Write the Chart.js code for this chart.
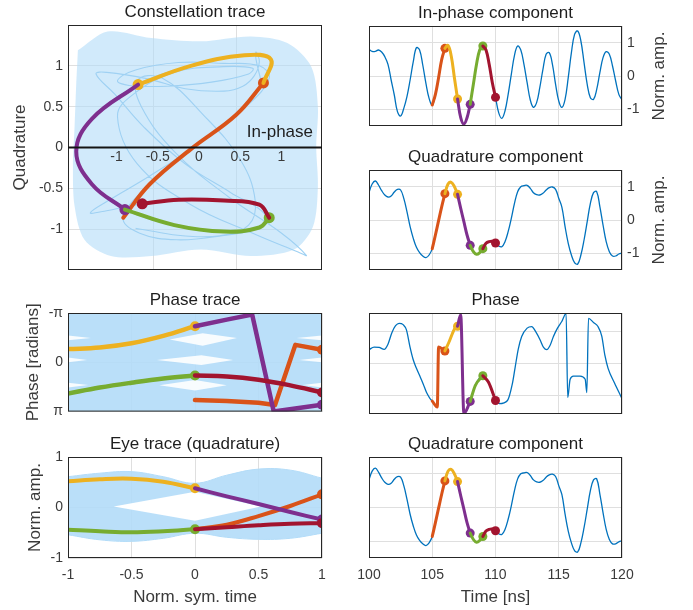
<!DOCTYPE html>
<html>
<head>
<meta charset="utf-8">
<script src="https://cdn.jsdelivr.net/npm/chart.js@4.4.0/dist/chart.umd.min.js"></script>
<style>
  body { margin: 0; background: #fff; }
  #fig { position: relative; width: 693px; height: 610px; }
  canvas { position: absolute; }
</style>
</head>
<body>
<div id="fig">
  <canvas id="constellation" width="340" height="285" style="left:0;top:0"></canvas>
  <canvas id="inphase" width="353" height="140" style="left:340px;top:0"></canvas>
  <canvas id="quad1" width="353" height="145" style="left:340px;top:140px"></canvas>
  <canvas id="phasetrace" width="340" height="140" style="left:0;top:285px"></canvas>
  <canvas id="phase" width="353" height="140" style="left:340px;top:285px"></canvas>
  <canvas id="eye" width="340" height="185" style="left:0;top:425px"></canvas>
  <canvas id="quad2" width="353" height="185" style="left:340px;top:425px"></canvas>
</div>
<script>
// ---- data ----
const timeNs = [100, 100.25, 100.5, 100.75, 101, 101.25, 101.5, 101.75, 102, 102.25, 102.5, 102.75, 103, 103.25, 103.5, 103.75,
  104, 104.25, 104.5, 104.75, 105, 105.25, 105.5, 105.75, 106, 106.25, 106.5, 106.75, 107, 107.25, 107.5, 107.75,
  108, 108.25, 108.5, 108.75, 109, 109.25, 109.5, 109.75, 110, 110.25, 110.5, 110.75, 111, 111.25, 111.5, 111.75,
  112, 112.25, 112.5, 112.75, 113, 113.25, 113.5, 113.75, 114, 114.25, 114.5, 114.75, 115, 115.25, 115.5, 115.75,
  116, 116.25, 116.5, 116.75, 117, 117.25, 117.5, 117.75, 118, 118.25, 118.5, 118.75, 119, 119.25, 119.5, 119.75, 120];

const inPhase = [0.80, 0.74, 0.74, 0.78, 0.72, 0.58, 0.35, -0.12, -0.57, -1.07,
  -1.20, -0.97, -0.62, -0.12, 0.43, 0.85, 0.78, 0.33, -0.22, -0.67,
  -0.87, -0.55, -0.05, 0.50, 0.83, 0.92, 0.60, -0.05, -0.69, -1.25,
  -1.44, -1.25, -0.85, -0.25, 0.35, 0.78, 0.90, 0.78, 0.35, -0.20,
  -0.64, -1.10, -1.27, -1.05, -0.55, 0.05, 0.62, 0.90, 0.78, 0.35,
  -0.20, -0.72, -0.94, -0.80, -0.35, 0.20, 0.65, 0.70, 0.35, -0.25,
  -0.75, -0.94, -0.70, -0.05, 0.70, 1.25, 1.35, 1.05, 0.40, -0.25,
  -0.65, -0.70, -0.40, 0.10, 0.55, 0.73, 0.65, 0.30, -0.15, -0.55, -0.72];

const quadrature = [0.82, 1.08, 1.17, 1.05, 0.88, 0.75, 0.69, 0.72, 0.84, 0.92,
  0.90, 0.65, 0.25, -0.20, -0.55, -0.82, -0.98, -1.08, -1.13, -1.05,
  -0.86, -0.45, -0.02, 0.40, 0.79, 1.08, 1.13, 1.00, 0.77, 0.35,
  -0.05, -0.45, -0.76, -0.95, -1.03, -0.98, -0.86, -0.70, -0.65, -0.64,
  -0.69, -0.78, -0.80, -0.65, -0.35, 0.05, 0.50, 0.85, 1.00, 1.03,
  1.04, 0.95, 0.82, 0.76, 0.75, 0.80, 0.90, 0.97, 0.99, 0.92,
  0.65, 0.38, -0.20, -0.70, -1.05, -1.28, -1.32, -1.05, -0.60, -0.05,
  0.50, 0.82, 0.85, 0.40, -0.15, -0.65, -0.95, -1.08, -1.08, -1.02, -0.99];

const phaseTime = [100, 100.4, 100.8, 101.2, 101.5, 101.8, 102.1, 102.38, 102.7, 102.96, 103.23, 103.49, 103.75, 104.02,
  104.3, 104.55, 104.8, 105, 105.4, 105.5, 106, 106.3, 106.8, 107, 107.25, 107.5, 108, 108.4, 109, 109.45, 110,
  110.3, 110.95, 111.33, 111.55, 111.8, 112.07, 112.5, 112.86, 113.2, 113.52, 113.8, 114.05, 114.3, 114.58, 114.9,
  115.24, 115.58, 115.71, 115.9, 116.16, 116.69, 117.09, 117.22, 117.35, 117.75, 118.1, 118.4, 118.65, 118.9, 119.4, 119.95];
const phaseValue = [0.86, 1.02, 1.0, 0.88, 1.2, 1.9, 2.35, 2.50, 2.42, 2.09, 1.07, 0.25, -0.3, -0.78,
  -1.3, -1.81, -2.15, -2.34, -2.71, 1.03, 0.78, 1.29, 2.21, 2.32, 3.03, -3.12, -2.36, -1.37, -0.76, -1.17, -2.30,
  -2.50, -2.30, -1.27, -0.25, 0.9, 1.68, 2.2, 2.30, 1.95, 1.48, 1.0, 0.86, 1.1, 1.68, 2.2,
  2.61, 3.12, -2.11, -0.98, -0.78, -0.78, -0.98, -1.81, 2.81, 2.55, 2.3, 1.7, 0.5, -0.3, -1.2, -2.11];

// highlighted symbols: 105-106 orange, 106-107 yellow, 107-108 purple, 108-109 green, 109-110 dark red
const segBounds = [105, 106, 107, 108, 109, 110];
const segColors = ['#D95319', '#EDB120', '#7E2F8E', '#77AC30', '#A2142F'];

// outline of the light-blue constellation cloud (in-phase, quadrature)
const cloudI = [-1.42, -1.06, -0.53, 0.07, 0.68, 1.12, 1.41, 1.49, 1.47, 1.49, 1.43, 1.20, 0.68, 0.07, -0.53, -1.02, -1.34, -1.46, -1.48, -1.46, -1.44];
const cloudQ = [1.19, 1.42, 1.34, 1.30, 1.36, 1.28, 0.99, 0.50, 0.01, -0.48, -0.97, -1.25, -1.33, -1.25, -1.33, -1.33, -1.13, -0.72, -0.23, 0.26, 0.79];

// phase trace (normalised symbol time, radians)
const tauFirst = [-1, -0.75, -0.5, -0.25, 0];
const tauSecond = [0, 0.25, 0.5, 0.75, 1];
const ptYellow = [0.84, 0.94, 1.21, 1.68, 2.30];
const ptGreen = [-1.99, -1.61, -1.30, -1.03, -0.84];
const ptPurpleTau = [0, 0.25, 0.45, 0.62, 1];
const ptPurple = [2.30, 2.72, 3.04, -3.14, -2.70];
const ptOrangeTau = [0, 0.25, 0.5, 0.63, 0.79, 1];
const ptOrange = [-2.41, -2.47, -2.58, -2.72, 1.11, 0.80];
const ptDarkRed = [-0.84, -0.90, -1.11, -1.47, -1.92];
const ptCloudTau = [-1, -1, 1, 1];
const ptCloudPhase = [-Math.PI, Math.PI, Math.PI, -Math.PI];
const ptHoles = [
  { tau: [-0.2, 0.06, 0.33, 0.06], phase: [1.45, 1.85, 1.55, 1.05] },
  { tau: [-0.3, 0.05, 0.3, 0.05], phase: [0.14, 0.45, 0.14, -0.18] },
  { tau: [-0.28, 0.0, 0.25, 0.0], phase: [-1.47, -1.12, -1.47, -1.80] },
  { tau: [-1, -0.82, -1], phase: [1.70, 1.55, 1.40] },
  { tau: [1, 0.8, 1], phase: [1.70, 1.55, 1.40] },
  { tau: [-1, -0.85, -1], phase: [0.30, 0.15, 0.0] },
  { tau: [1, 0.82, 1], phase: [0.30, 0.15, 0.0] },
  { tau: [-1, -0.84, -1], phase: [-1.30, -1.45, -1.60] },
  { tau: [1, 0.85, 1], phase: [-1.30, -1.45, -1.60] }
];

// eye trace (quadrature)
const eyeYellow = [0.52, 0.56, 0.57, 0.51, 0.38];
const eyeGreen = [-0.44, -0.47, -0.49, -0.47, -0.43];
const eyePurple = [0.38, 0.22, 0.07, -0.09, -0.24];
const eyeOrange = [-0.43, -0.34, -0.17, 0.03, 0.26];
const eyeDarkRed = [-0.43, -0.39, -0.35, -0.32, -0.31];
const eyeEnvTau = [-1, -0.75, -0.5, -0.25, 0, 0.25, 0.5, 0.75, 1];
const eyeUpper = [0.61, 0.68, 0.71, 0.61, 0.48, 0.64, 0.76, 0.74, 0.58];
const eyeLower = [-0.54, -0.64, -0.67, -0.61, -0.51, -0.59, -0.63, -0.61, -0.51];
const eyeHoleTau = [-0.64, 0, 0.52, 0];
const eyeHoleAmp = [0.02, 0.31, 0.02, -0.26];

const timeTicks = [100, 105, 110, 115, 120];
const ampTicks = [-1, 0, 1];
const constTicks = [-1, -0.5, 0, 0.5, 1];
const symTicks = [-1, -0.5, 0, 0.5, 1];

// ---- styling ----
const FONT = "'Liberation Sans', Arial, Helvetica, sans-serif";
const GRID = '#dfdfdf';
const TICK = '#3a3a3a';
const CLOUD = '#b3dcf8';
const TRACE = '#0072BD';

Chart.defaults.font.family = FONT;
Chart.defaults.color = TICK;
Chart.defaults.animation = false;
Chart.defaults.events = [];
Chart.defaults.plugins.legend.display = false;
Chart.defaults.plugins.tooltip.enabled = false;

function pairs(xs, ys) { return xs.map((x, i) => ({ x, y: ys[i] })); }

function pick(xs, ys, a, b) {
  const out = [];
  xs.forEach((x, i) => { if (x >= a - 1e-9 && x <= b + 1e-9) out.push({ x, y: ys[i] }); });
  return out;
}

function segment(data, color, width, dot, extra) {
  return Object.assign({
    data, showLine: true, borderColor: color, backgroundColor: color, borderWidth: width,
    pointRadius: data.map((p, i) => i === data.length - 1 ? dot : 0),
    pointBorderWidth: 0, tension: 0.4, fill: false,
    borderCapStyle: 'round', borderJoinStyle: 'round'
  }, extra || {});
}

function area(data, color, extra) {
  return Object.assign({
    data, showLine: true, borderColor: 'rgba(0,0,0,0)', backgroundColor: color, borderWidth: 0,
    pointRadius: 0, tension: 0, fill: 'shape'
  }, extra || {});
}

function yAxis(min, max, ticks, o) {
  return {
    type: 'linear', min, max, position: o.position || 'left',
    afterBuildTicks: s => { s.ticks = ticks.map(v => ({ value: v })); },
    afterFit: s => { s.width = o.width; },
    grid: { color: GRID, drawTicks: false },
    border: { display: false },
    ticks: { display: o.labels !== false, padding: 5, font: { size: 14 }, color: TICK, callback: o.fmt || (v => String(v)) },
    title: o.title ? { display: true, text: o.title, font: { size: 17 }, color: TICK, padding: { top: o.titlePad, bottom: 0 } } : { display: false }
  };
}

function xAxis(min, max, ticks, o) {
  return {
    type: 'linear', min, max, position: 'bottom',
    afterBuildTicks: s => { s.ticks = ticks.map(v => ({ value: v })); },
    afterFit: s => { s.height = o.height || 0; },
    grid: { color: GRID, drawTicks: false },
    border: { display: false },
    ticks: { display: !!o.labels, padding: 9, font: { size: 14 }, color: TICK, maxRotation: 0, autoSkip: false, callback: v => String(v) },
    title: o.title ? { display: true, text: o.title, font: { size: 17 }, color: TICK, padding: { top: 0, bottom: 2 } } : { display: false }
  };
}

// box, title above, optional right-hand label
const framePlugin = {
  id: 'frame',
  afterDatasetsDraw(chart, args, o) {
    const { ctx, chartArea: a } = chart;
    ctx.save();
    ctx.strokeStyle = '#262626';
    ctx.lineWidth = 1;
    ctx.strokeRect(a.left + 0.5, a.top + 0.5, a.right - a.left - 1, a.bottom - a.top - 1);
    ctx.font = '17px ' + FONT;
    ctx.fillStyle = '#1e1e1e';
    ctx.textAlign = 'center';
    ctx.textBaseline = 'middle';
    if (o.title) ctx.fillText(o.title, (a.left + a.right) / 2, a.top - 13);
    if (o.rightLabel) {
      ctx.fillStyle = TICK;
      ctx.translate(chart.width - 34, (a.top + a.bottom) / 2);
      ctx.rotate(-Math.PI / 2);
      ctx.fillText(o.rightLabel, 0, 0);
    }
    ctx.restore();
  }
};

// in-phase axis drawn through the origin of the constellation
const originAxisPlugin = {
  id: 'originAxis',
  afterDatasetsDraw(chart, args, o) {
    if (!o.ticks) return;
    const { ctx, chartArea: a, scales: { x, y } } = chart;
    const y0 = y.getPixelForValue(0);
    ctx.save();
    ctx.strokeStyle = '#141414';
    ctx.lineWidth = 2;
    ctx.beginPath();
    ctx.moveTo(a.left, y0);
    ctx.lineTo(a.right, y0);
    ctx.stroke();
    ctx.font = '14px ' + FONT;
    ctx.fillStyle = TICK;
    ctx.textAlign = 'center';
    ctx.textBaseline = 'middle';
    o.ticks.forEach(v => ctx.fillText(String(v), x.getPixelForValue(v) + 4, y0 + 10));
    ctx.font = '17px ' + FONT;
    ctx.fillStyle = '#1e1e1e';
    ctx.textAlign = 'right';
    ctx.textBaseline = 'alphabetic';
    ctx.fillText(o.label, a.right - 9, y0 - 11);
    ctx.restore();
  }
};

function makeChart(id, datasets, scales, padding, frame, origin) {
  return new Chart(document.getElementById(id), {
    type: 'scatter',
    data: { datasets },
    options: {
      responsive: false,
      devicePixelRatio: 1,
      layout: { padding },
      scales,
      plugins: { frame, originAxis: origin || {} }
    },
    plugins: [framePlugin, originAxisPlugin]
  });
}

// ---- constellation ----
const iqSegs = segColors.map((c, k) => {
  const pts = [];
  timeNs.forEach((t, i) => { if (t >= segBounds[k] && t <= segBounds[k + 1]) pts.push({ x: inPhase[i], y: quadrature[i] }); });
  return segment(pts, c, 4, 5.5);
}).reverse();

makeChart('constellation', [
  ...iqSegs,
  { data: pairs(inPhase, quadrature), showLine: true, borderColor: '#9fd1f3', borderWidth: 1.1, pointRadius: 0, tension: 0.4, fill: false },
  area(pairs(cloudI, cloudQ), 'rgba(179,220,248,0.6)', { tension: 0.3 })
], {
  x: xAxis(-1.54, 1.54, [-0.5, 0.5], {}),
  y: yAxis(-1.5, 1.5, constTicks, { width: 68, title: 'Quadrature', titlePad: 10 })
}, { left: 0, top: 25, right: 18, bottom: 15 },
{ title: 'Constellation trace' }, { ticks: constTicks, label: 'In-phase' });

// ---- right column waveforms ----
function waveChart(id, t, v, scalesY, padding, frame, xOpts, interp) {
  const segs = segColors.map((c, k) => segment(pick(t, v, segBounds[k], segBounds[k + 1]), c, 3, 4.5, interp)).reverse();
  makeChart(id, [
    ...segs,
    Object.assign({ data: pairs(t, v), showLine: true, borderColor: TRACE, borderWidth: 1.3, pointRadius: 0, tension: 0.4, fill: false }, interp || {})
  ], { x: xAxis(100, 120, timeTicks, xOpts), y: scalesY }, padding, frame);
}

waveChart('inphase', timeNs, inPhase,
  yAxis(-1.5, 1.5, ampTicks, { position: 'right', width: 71 }),
  { left: 29, top: 26, right: 0, bottom: 14 },
  { title: 'In-phase component', rightLabel: 'Norm. amp.' }, {});

waveChart('quad1', timeNs, quadrature,
  yAxis(-1.5, 1.5, ampTicks, { position: 'right', width: 71 }),
  { left: 29, top: 30, right: 0, bottom: 15 },
  { title: 'Quadrature component', rightLabel: 'Norm. amp.' }, {});

waveChart('phase', phaseTime, phaseValue,
  yAxis(-Math.PI, Math.PI, [-2, 0, 2], { position: 'right', width: 71, labels: false }),
  { left: 29, top: 28, right: 0, bottom: 11 },
  { title: 'Phase' }, {}, { tension: 0, cubicInterpolationMode: 'monotone' });

waveChart('quad2', timeNs, quadrature,
  yAxis(-1.5, 1.5, ampTicks, { position: 'right', width: 71, labels: false }),
  { left: 29, top: 32, right: 0, bottom: 0 },
  { title: 'Quadrature component' }, { labels: true, height: 52, title: 'Time [ns]' });

// ---- phase trace ----
const piLabel = v => Math.abs(v - Math.PI) < 1e-6 ? '-\u03c0' : Math.abs(v + Math.PI) < 1e-6 ? '\u03c0' : '0';

makeChart('phasetrace', [
  segment(pairs(tauSecond, ptDarkRed), segColors[4], 4.5, 5),
  segment(pairs(tauFirst, ptGreen), segColors[3], 4.5, 5),
  segment(pairs(ptPurpleTau, ptPurple), segColors[2], 4.5, 5, { tension: 0 }),
  segment(pairs(tauFirst, ptYellow), segColors[1], 4.5, 5),
  segment(pairs(ptOrangeTau, ptOrange), segColors[0], 4.5, 5, { tension: 0 }),
  ...ptHoles.map(h => area(pairs(h.tau, h.phase), 'rgba(255,255,255,0.9)')),
  area(pairs(ptCloudTau, ptCloudPhase), 'rgba(179,220,248,0.9)')
], {
  x: xAxis(-1, 1, symTicks, {}),
  y: yAxis(-Math.PI, Math.PI, [-Math.PI, 0, Math.PI], { width: 68, title: 'Phase [radians]', titlePad: 23, fmt: piLabel })
}, { left: 0, top: 28, right: 18, bottom: 11 }, { title: 'Phase trace' });

// ---- eye trace ----
makeChart('eye', [
  segment(pairs(tauSecond, eyeDarkRed), segColors[4], 4, 5),
  segment(pairs(tauFirst, eyeGreen), segColors[3], 4, 5),
  segment(pairs(tauSecond, eyePurple), segColors[2], 4, 5),
  segment(pairs(tauFirst, eyeYellow), segColors[1], 4, 5),
  segment(pairs(tauSecond, eyeOrange), segColors[0], 4, 5),
  area(pairs(eyeHoleTau, eyeHoleAmp), '#ffffff'),
  { data: pairs(eyeEnvTau, eyeUpper), showLine: true, borderColor: CLOUD, borderWidth: 1, pointRadius: 0, tension: 0.4, fill: '+1', backgroundColor: 'rgba(179,220,248,0.9)' },
  { data: pairs(eyeEnvTau, eyeLower), showLine: true, borderColor: CLOUD, borderWidth: 1, pointRadius: 0, tension: 0.4, fill: false }
], {
  x: xAxis(-1, 1, symTicks, { labels: true, height: 52, title: 'Norm. sym. time' }),
  y: yAxis(-1, 1, ampTicks, { width: 68, title: 'Norm. amp.', titlePad: 25 })
}, { left: 0, top: 32, right: 18, bottom: 0 }, { title: 'Eye trace (quadrature)' });
</script>
</body>
</html>
